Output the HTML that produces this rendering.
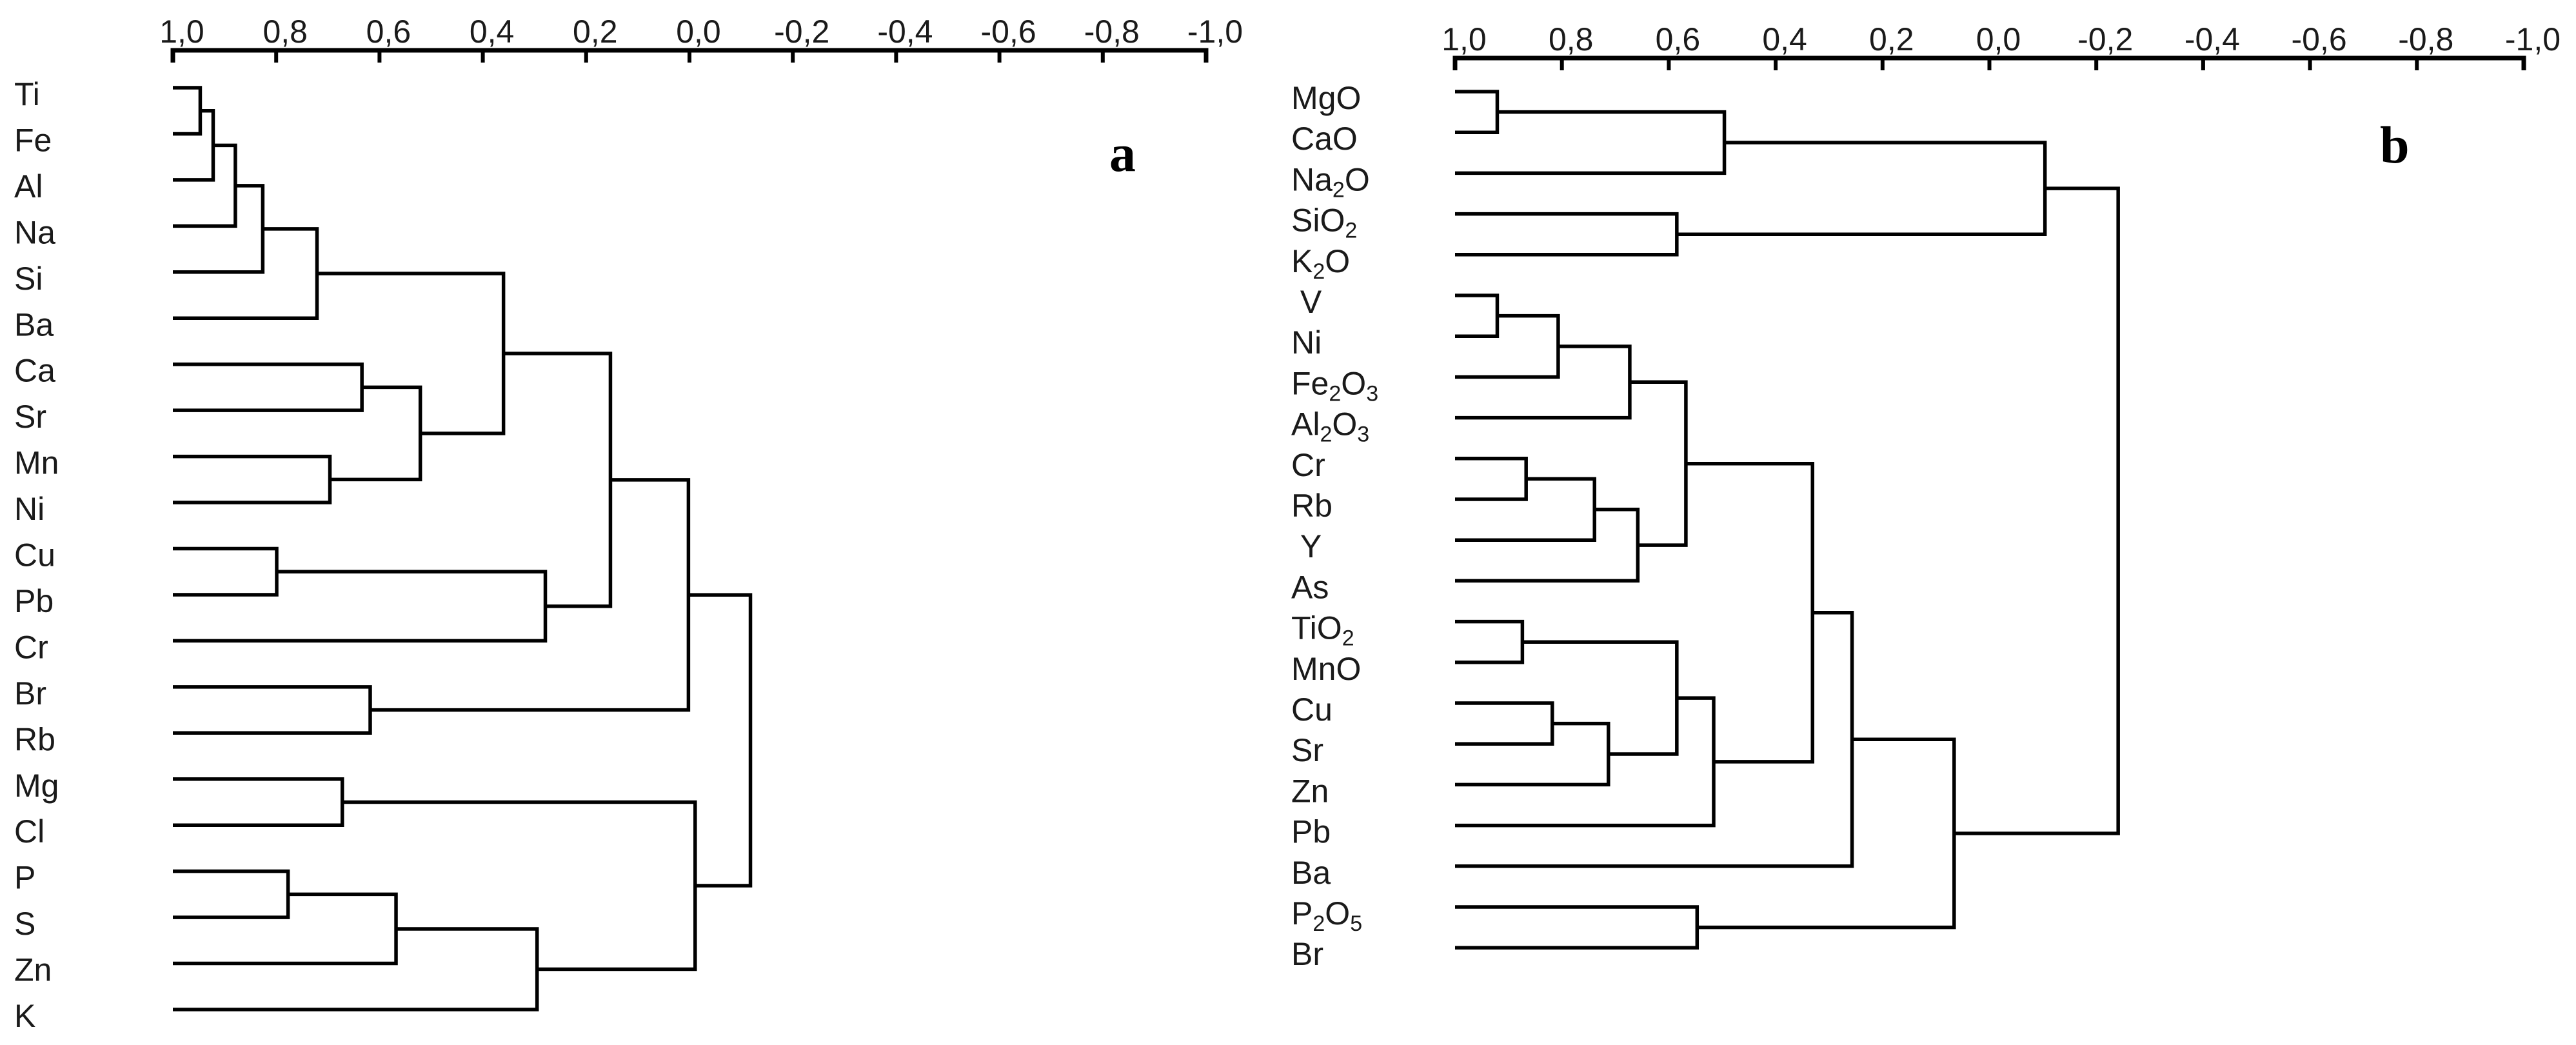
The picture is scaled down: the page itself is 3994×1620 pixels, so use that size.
<!DOCTYPE html>
<html><head><meta charset="utf-8">
<style>
html,body{margin:0;padding:0;background:#fff;}
svg{display:block;}
text{font-family:"Liberation Sans",sans-serif;fill:#1a1a1a;}
</style></head>
<body>
<svg id="chart" width="3994" height="1620" viewBox="0 0 3994 1620" xmlns="http://www.w3.org/2000/svg">
<rect width="3994" height="1620" fill="#fff"/>
<g id="panelA"></g>
<g id="panelB"></g>
<text x="1720" y="265" style="font-family:'Liberation Serif',serif;font-weight:bold;font-size:82px;fill:#000">a</text>
<text x="3690" y="252" style="font-family:'Liberation Serif',serif;font-weight:bold;font-size:82px;fill:#000">b</text>
</svg>
<script>
const tickValues = [1.0,0.8,0.6,0.4,0.2,0.0,-0.2,-0.4,-0.6,-0.8,-1.0];
const tickLabels = ["1,0","0,8","0,6","0,4","0,2","0,0","-0,2","-0,4","-0,6","-0,8","-1,0"];

const leavesA = ["Ti","Fe","Al","Na","Si","Ba","Ca","Sr","Mn","Ni","Cu","Pb","Cr","Br","Rb","Mg","Cl","P","S","Zn","K"];
const mergeLeftA  = [0,21,22,23,24,6,8,26,25,10,30,29,13,32,15,17,36,37,35,34];
const mergeRightA = [1,2,3,4,5,7,9,27,28,11,12,31,14,33,16,18,19,20,38,39];
const mergeValueA = [0.947,0.922,0.879,0.826,0.721,0.634,0.696,0.521,0.360,0.799,0.279,0.153,0.618,0.002,0.672,0.777,0.568,0.295,-0.011,-0.118];

const leavesB = ["MgO","CaO","Na_2O","SiO_2","K_2O"," V","Ni","Fe_2O_3","Al_2O_3","Cr","Rb"," Y","As","TiO_2","MnO","Cu","Sr","Zn","Pb","Ba","P_2O_5","Br"];
const mergeLeftB  = [0,22,3,23,5,26,27,9,29,30,28,13,15,34,33,36,32,38,20,39,25];
const mergeRightB = [1,2,4,24,6,7,8,10,11,12,31,14,16,17,35,18,37,19,21,40,41];
const mergeValueB = [0.921,0.496,0.585,-0.104,0.921,0.807,0.673,0.867,0.739,0.658,0.568,0.874,0.818,0.713,0.585,0.516,0.331,0.257,0.547,0.066,-0.241];

const NS = "http://www.w3.org/2000/svg";
function mk(tag, attrs, parent){
  const e = document.createElementNS(NS, tag);
  for (const k in attrs) e.setAttribute(k, attrs[k]);
  parent.appendChild(e);
  return e;
}

function drawPanel(g, cfg, leaves, mL, mR, mV, prefix){
  const xScale = v => cfg.x0 + (1 - v) / 2 * (cfg.x1 - cfg.x0);
  const yLeaf = i => cfg.y0 + i * cfg.step;
  // axis
  const axis = mk('path', {d:`M${xScale(1)} ${cfg.axisY+19} L${xScale(1)} ${cfg.axisY} L${xScale(-1)} ${cfg.axisY} L${xScale(-1)} ${cfg.axisY+19}`, stroke:'#000','stroke-width':7, fill:'none'}, g);
  
  
  tickValues.forEach((v, i) => {
    const t = mk('line', {x1:xScale(v), x2:xScale(v), y1:cfg.axisY, y2:cfg.axisY+19, stroke:'#000','stroke-width':6}, g);
    
    
    const lb = mk('text', {x:xScale(v)+14, y:cfg.axisY-12, 'text-anchor':'middle', 'font-size':50}, g);
    lb.textContent = tickLabels[i];
    
    
  });
  // leaves
  const n = leaves.length;
  const nodeX = [], nodeY = [];
  leaves.forEach((name, i) => {
    nodeX.push(xScale(1)); nodeY.push(yLeaf(i));
    const t = mk('text', {x:cfg.labelX, y:yLeaf(i)+27, 'font-size':50}, g);
    
    
    const parts = name.split('_');
    parts.forEach((p, j) => {
      if (j === 0) { const s = mk('tspan', {}, t); s.textContent = p.replace(/^ /,'\u00a0'); }
      else {
        const sub = mk('tspan', {'font-size':34, dy:10}, t); sub.textContent = p[0];
        if (p.length > 1) { const r = mk('tspan', {dy:-10}, t); r.textContent = p.slice(1); }
      }
    });
  });
  // merges
  for (let k = 0; k < mV.length; k++) {
    const a = mL[k], b = mR[k], xm = xScale(mV[k]);
    const p = mk('path', {d:`M${nodeX[a]} ${nodeY[a]} L${xm} ${nodeY[a]} L${xm} ${nodeY[b]} L${nodeX[b]} ${nodeY[b]}`, stroke:'#000','stroke-width':5.5, fill:'none','stroke-linejoin':'miter'}, g);
    
    
    nodeX.push(xm); nodeY.push((nodeY[a] + nodeY[b]) / 2);
  }
}

drawPanel(document.getElementById('panelA'), {x0:268, x1:1870, axisY:78, y0:136, step:71.45, labelX:22}, leavesA, mergeLeftA, mergeRightA, mergeValueA, 'a');
drawPanel(document.getElementById('panelB'), {x0:2256, x1:3913, axisY:90, y0:142, step:63.2, labelX:2002}, leavesB, mergeLeftB, mergeRightB, mergeValueB, 'b');
</script>
</body></html>
